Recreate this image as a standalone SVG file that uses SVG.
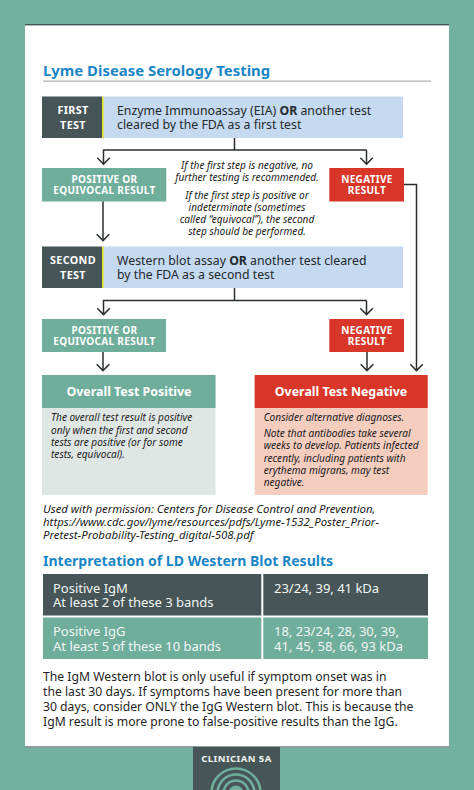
<svg xmlns="http://www.w3.org/2000/svg" width="474" height="790" viewBox="0 0 474 790">
<style>
text{font-family:"Noto Sans","Open Sans","DejaVu Sans",sans-serif}
.h{font-size:14.9px;font-weight:700;fill:#1a86c6}
.lab{font-size:10.8px;font-weight:700;fill:#fff;letter-spacing:.35px;text-anchor:middle}
.res{font-size:10px;font-weight:700;fill:#fff;letter-spacing:.32px;text-anchor:middle}
.main{font-size:12.3px;fill:#23292c}
.it{font-size:10.1px;font-style:italic;fill:#1c1c1c}
.cite{font-size:11.4px;font-style:italic;fill:#1c1c1c}
.itc{font-size:10.1px;font-style:italic;fill:#1c1c1c;text-anchor:middle}
.ov{font-size:12.4px;font-weight:700;fill:#fff;text-anchor:middle}
.tb{font-size:13px;fill:#f2f6f5}
.body{font-size:12.2px;fill:#1f1f1f}
.c{fill:none;stroke:#2a2e30;stroke-width:1.5}
.ring{fill:none;stroke:#6eae9b;stroke-width:2.6}
.dark{fill:#475558}.teal{fill:#6eae9b}.red{fill:#d9362a}.blue{fill:#c5daf1}.ye{fill:#e8e32a}
</style>
<defs><marker id="a" viewBox="0 0 10 14" refX="8.4" refY="7" markerWidth="10" markerHeight="14" markerUnits="userSpaceOnUse" orient="auto"><path d="M1.6 .7L8 7L1.6 13.3" fill="none" stroke="#2a2e30" stroke-width="1.5"/></marker></defs>
<rect width="474" height="790" fill="#72b19e"/>
<rect x="25" y="26" width="424" height="722" fill="#8d9e9a"/>
<rect x="25" y="24" width="424" height="1.6" fill="#475558"/>
<rect x="25" y="25.5" width="424" height="720.5" fill="#fff"/>
<g id="title"><text class="h" x="43" y="76">Lyme Disease Serology Testing</text><rect x="43" y="80.6" width="388" height="1" fill="#9a9fa1"/></g>
<g id="first-test"><rect class="blue" x="103" y="96.500" width="300" height="41.500"/><rect class="dark" x="42" y="96.500" width="60" height="41.500"/><rect class="ye" x="102" y="96.500" width="1.600" height="41.500"/>
<text class="lab" x="73" y="114">FIRST</text><text class="lab" x="73" y="128.700">TEST</text>
<text class="main" x="117" y="114.500">Enzyme Immunoassay (EIA) <tspan font-weight="700">OR</tspan> another test</text><text class="main" x="117" y="129.200">cleared by the FDA as a first test</text></g>
<g id="pos1"><rect class="teal" x="42" y="168" width="124.300" height="33.500"/><text class="res" x="104.500" y="182.500">POSITIVE OR</text><text class="res" x="104.500" y="194">EQUIVOCAL RESULT</text></g>
<g id="neg1"><rect class="red" x="329.300" y="168" width="74.700" height="33.500"/><text class="res" x="367" y="182.500">NEGATIVE</text><text class="res" x="367" y="194">RESULT</text></g>
<g id="note"><text class="itc" x="247" y="169">If the first step is negative, no</text><text class="itc" x="247" y="181">further testing is recommended.</text><text class="itc" x="247" y="198.500">If the first step is positive or</text><text class="itc" x="247" y="210.700">indeterminate (sometimes</text><text class="itc" x="247" y="223">called “equivocal”), the second</text><text class="itc" x="247" y="235.200">step should be performed.</text></g>
<g id="second-test"><rect class="blue" x="103" y="246.500" width="300" height="41.500"/><rect class="dark" x="42" y="246.500" width="60" height="41.500"/><rect class="ye" x="102" y="246.500" width="1.600" height="41.500"/>
<text class="lab" x="73" y="264">SECOND</text><text class="lab" x="73" y="278.700">TEST</text>
<text class="main" x="117" y="264.500">Western blot assay <tspan font-weight="700">OR</tspan> another test cleared</text><text class="main" x="117" y="279.200">by the FDA as a second test</text></g>
<g id="pos2"><rect class="teal" x="42" y="319" width="124" height="33"/><text class="res" x="104.500" y="333.500">POSITIVE OR</text><text class="res" x="104.500" y="345">EQUIVOCAL RESULT</text></g>
<g id="neg2"><rect class="red" x="329.300" y="319" width="74.700" height="33"/><text class="res" x="367" y="333.500">NEGATIVE</text><text class="res" x="367" y="345">RESULT</text></g>
<g id="overall-positive"><rect x="42" y="375" width="173.500" height="120" fill="#dfe7e5"/><rect class="teal" x="42" y="375" width="173.500" height="33"/><text class="ov" x="129" y="396">Overall Test Positive</text>
<text class="it" x="51" y="421">The overall test result is positive</text><text class="it" x="51" y="433.500">only when the first and second</text><text class="it" x="51" y="445.800">tests are positive (or for some</text><text class="it" x="51" y="458">tests, equivocal).</text></g>
<g id="overall-negative"><rect x="254.700" y="375" width="173" height="120" fill="#f5cdbf"/><rect class="red" x="254.700" y="375" width="173" height="33"/><text class="ov" x="341" y="396">Overall Test Negative</text>
<text class="it" x="263.700" y="421">Consider alternative diagnoses.</text><text class="it" x="263.700" y="437">Note that antibodies take several</text><text class="it" x="263.700" y="449">weeks to develop. Patients infected</text><text class="it" x="263.700" y="461.500">recently, including patients with</text><text class="it" x="263.700" y="473.700">erythema migrans, may test</text><text class="it" x="263.700" y="486">negative.</text></g>
<g id="connectors">
<path class="c" d="M234.500 138V150"/><path class="c" d="M366.500 150H103.500V164.500" marker-end="url(#a)"/><path class="c" d="M366.500 150V164.500" marker-end="url(#a)"/>
<path class="c" d="M103 201.500V241" marker-end="url(#a)"/>
<path class="c" d="M404 184.500H416.500V371" marker-end="url(#a)"/>
<path class="c" d="M234.500 288V300.500"/><path class="c" d="M366.500 300.500H103.500V315" marker-end="url(#a)"/><path class="c" d="M366.500 300.500V315" marker-end="url(#a)"/>
<path class="c" d="M103 352V371" marker-end="url(#a)"/><path class="c" d="M367 352V371" marker-end="url(#a)"/>
</g>
<g id="citation"><text class="cite" x="43" y="512.500">Used with permission: Centers for Disease Control and Prevention,</text><text class="cite" x="43" y="525.500">https://www.cdc.gov/lyme/resources/pdfs/Lyme-1532_Poster_Prior-</text><text class="cite" x="43" y="538.500">Pretest-Probability-Testing_digital-508.pdf</text></g>
<g id="table"><text class="h" x="43" y="565.500" style="font-size:14.05px">Interpretation of LD Western Blot Results</text>
<rect class="dark" x="43" y="574" width="218.300" height="41.500"/><rect class="dark" x="263.300" y="574" width="164.700" height="41.500"/>
<rect class="teal" x="43" y="617.500" width="218.300" height="41.500"/><rect class="teal" x="263.300" y="617.500" width="164.700" height="41.500"/>
<text class="tb" x="53" y="592.500">Positive IgM</text><text class="tb" x="53" y="607.300">At least 2 of these 3 bands</text><text class="tb" x="274" y="592.500">23/24, 39, 41 kDa</text>
<text class="tb" x="53" y="636">Positive IgG</text><text class="tb" x="53" y="650.800">At least 5 of these 10 bands</text><text class="tb" x="274" y="636">18, 23/24, 28, 30, 39,</text><text class="tb" x="274" y="650.800">41, 45, 58, 66, 93 kDa</text></g>
<g id="body"><text class="body" x="43" y="681">The IgM Western blot is only useful if symptom onset was in</text><text class="body" x="43" y="696">the last 30 days. If symptoms have been present for more than</text><text class="body" x="43" y="711">30 days, consider ONLY the IgG Western blot. This is because the</text><text class="body" x="43" y="726">IgM result is more prone to false-positive results than the IgG.</text></g>
<g id="footer"><rect class="dark" x="193" y="747" width="87" height="43"/><text x="236.500" y="762" text-anchor="middle" font-size="9.500" font-weight="700" letter-spacing=".45" fill="#f2f6f5">CLINICIAN 5A</text>
<circle class="ring" cx="236" cy="793" r="24.500"/><circle class="ring" cx="236" cy="793" r="18.500"/><circle class="ring" cx="236" cy="793" r="12.500"/><circle cx="236" cy="793" r="7.500" fill="#6eae9b"/></g>
</svg>
